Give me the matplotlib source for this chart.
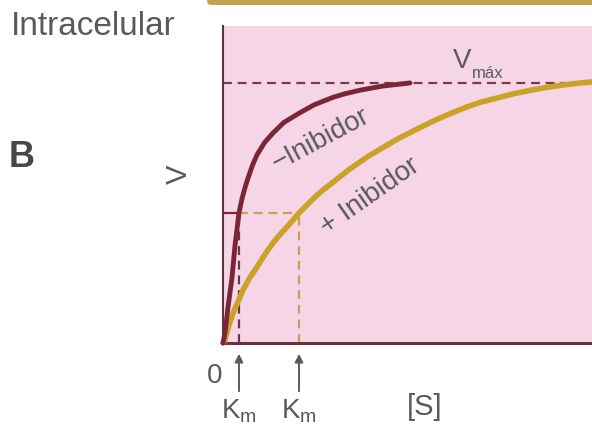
import matplotlib
matplotlib.use("Agg")
import matplotlib.pyplot as plt
import matplotlib.transforms as mtransforms
from matplotlib.lines import Line2D

plt.rcParams['font.family'] = ['Liberation Sans', 'DejaVu Sans']

# velocity curves, [S] in units of Km (+inhibitor), v in units of Vmax
s_sin = [0, 0.026, 0.066, 0.118, 0.158, 0.21, 0.25, 0.29, 0.33, 0.39, 0.45, 0.55,
         0.66, 0.80, 1.01, 1.20, 1.45, 1.60, 1.80, 2.10, 2.46]
v_sin = [0, 0.038, 0.138, 0.250, 0.375, 0.50, 0.555, 0.598, 0.635, 0.685, 0.725, 0.772,
         0.808, 0.848, 0.885, 0.916, 0.945, 0.958, 0.972, 0.988, 1.0]

s_con = [0, 0.026, 0.07, 0.132, 0.20, 0.263, 0.35, 0.447, 0.55, 0.658, 0.75, 0.842,
         1.0, 1.171, 1.30, 1.434, 1.65, 1.895, 2.066, 2.30, 2.50, 2.763, 2.947,
         3.21, 3.38, 3.645, 3.816, 4.05, 4.26, 4.50, 4.70, 4.855]
v_con = [0, 0.012, 0.06, 0.115, 0.16, 0.204, 0.25, 0.292, 0.34, 0.385, 0.417, 0.446,
         0.5, 0.55, 0.585, 0.615, 0.665, 0.715, 0.745, 0.785, 0.815, 0.853, 0.877,
         0.908, 0.925, 0.945, 0.958, 0.972, 0.983, 0.993, 1.0, 1.004]

vmax = 1.0
km_sin = 0.21
km_con = 1.0

W, H = 592, 433
RED = '#7a2638'
GOLD = '#c9a227'
GREY = '#5a5a5a'


def fx(px):
    return px / W


def fy(py):
    return 1 - py / H


fig = plt.figure(figsize=(5.92, 4.33), dpi=100)
ax = fig.add_axes([fx(223), fy(343), 1 - fx(223), (343 - 26) / H])
ax.set_facecolor('#f6d6e6')
ax.set_xlim(0, 4.855)
ax.set_ylim(0, 1.219)
for side in ['top', 'right']:
    ax.spines[side].set_visible(False)
ax.spines['left'].set_color('#5a3540')
ax.spines['left'].set_linewidth(1.5)
ax.spines['bottom'].set_color('#6e2f3e')
ax.spines['bottom'].set_linewidth(2.2)
ax.set_xticks([])
ax.set_yticks([])

# guide lines
ax.axhline(vmax, color='#7a3a48', lw=1.6, ls=(0, (4, 2.6)), zorder=2)
ax.plot([0, km_sin], [vmax / 2, vmax / 2], color=RED, lw=1.6, zorder=2)
ax.plot([km_sin, km_con], [vmax / 2, vmax / 2], color='#c8a055', lw=1.6, ls=(0, (4, 2.6)), zorder=2)
ax.plot([km_sin, km_sin], [0, vmax / 2], color='#6a3350', lw=1.6, ls=(0, (4, 2.6)), zorder=2)
ax.plot([km_con, km_con], [0, vmax / 2], color='#c8a055', lw=1.6, ls=(0, (4, 2.6)), zorder=2)

# curves
ax.plot(s_con, v_con, color=GOLD, lw=4, solid_capstyle='round', solid_joinstyle='round',
        zorder=3, clip_on=False)
ax.plot(s_sin, v_sin, color=RED, lw=3.5, solid_capstyle='round', solid_joinstyle='round',
        zorder=4, clip_on=False)

ax.text(1.29, 0.78, '\u2212Inibidor', fontsize=20, color=GREY, rotation=28,
        ha='center', va='center', rotation_mode='anchor')
ax.text(1.93, 0.565, '+ Inibidor', fontsize=20, color=GREY, rotation=35,
        ha='center', va='center', rotation_mode='anchor')

# arrows and labels under the x axis
tr = mtransforms.blended_transform_factory(ax.transData, fig.transFigure)
for km in [km_sin, km_con]:
    ax.annotate('', xy=(km, fy(351)), xytext=(km, fy(394)), xycoords=tr, textcoords=tr,
                arrowprops=dict(arrowstyle='-|>', color=GREY, lw=1.4, mutation_scale=12))
    ax.text(km, fy(418), r'K$_{\mathregular{m}}$', transform=tr, fontsize=20, color=GREY,
            ha='center', va='baseline')

fig.text(fx(214.5), fy(383), '0', fontsize=20, color=GREY, ha='center', va='baseline')
fig.text(fx(425), fy(407), '[S]', fontsize=21, color=GREY, ha='center', va='center')

fig.text(fx(453), fy(68), 'V', fontsize=20, color=GREY, ha='left', va='baseline')
fig.text(fx(472), fy(78), 'máx', fontsize=12, color=GREY, ha='left', va='baseline')

fig.text(fx(179), fy(174), 'V', fontsize=21, color=GREY, rotation=90, ha='center', va='center')

fig.text(fx(11), fy(35), 'Intracelular', fontsize=24, color=GREY, ha='left', va='baseline')
fig.text(fx(9), fy(167), 'B', fontsize=26, color='#474747', fontweight='bold',
         ha='left', va='baseline')

# piece of the figure above, cut by the page edge
fig.add_artist(Line2D([fx(210), 1.02], [fy(1), fy(1)], lw=5, color='#c4a247',
                      solid_capstyle='round', transform=fig.transFigure))

fig.savefig('out.png', dpi=100)
